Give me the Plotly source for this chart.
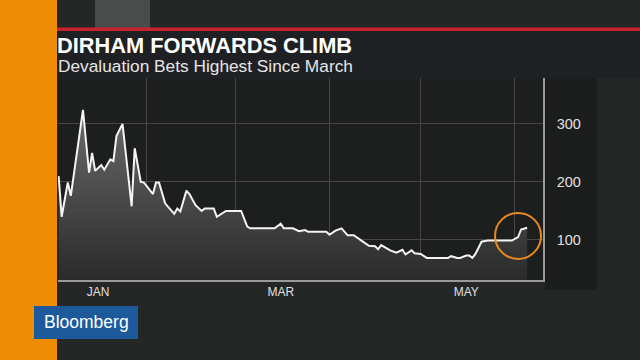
import plotly.graph_objects as go

# ---- data ----
dates = [
    "2016-01-03", "2016-01-04", "2016-01-06", "2016-01-07", "2016-01-11", "2016-01-13",
    "2016-01-14", "2016-01-15", "2016-01-17", "2016-01-18", "2016-01-20", "2016-01-21",
    "2016-01-22", "2016-01-24", "2016-01-27", "2016-01-28", "2016-01-30", "2016-01-31",
    "2016-02-03", "2016-02-04", "2016-02-05", "2016-02-07", "2016-02-08", "2016-02-10",
    "2016-02-11", "2016-02-12", "2016-02-14", "2016-02-15", "2016-02-17", "2016-02-19",
    "2016-02-20", "2016-02-23", "2016-02-24", "2016-02-27", "2016-03-03", "2016-03-05",
    "2016-03-06", "2016-03-14", "2016-03-16", "2016-03-17", "2016-03-20", "2016-03-22",
    "2016-03-24", "2016-03-25", "2016-03-31", "2016-04-01", "2016-04-03", "2016-04-05",
    "2016-04-07", "2016-04-09", "2016-04-12", "2016-04-14", "2016-04-16", "2016-04-17",
    "2016-04-18", "2016-04-20", "2016-04-21", "2016-04-23", "2016-04-25", "2016-04-26",
    "2016-04-28", "2016-04-29", "2016-05-01", "2016-05-03", "2016-05-10", "2016-05-11",
    "2016-05-13", "2016-05-14", "2016-05-16", "2016-05-17", "2016-05-18", "2016-05-19",
    "2016-05-21", "2016-05-23", "2016-05-31", "2016-06-02", "2016-06-03", "2016-06-05",
]
values = [
    210, 140, 199, 176, 324, 216,
    250, 219, 229, 221, 239, 236,
    279, 300, 158, 258, 200, 199,
    179, 199, 199, 163, 157, 145,
    154, 149, 185, 179, 160, 150,
    154, 154, 140, 150, 150, 123,
    120, 120, 128, 120, 120, 115,
    117, 114, 114, 109, 116, 120,
    108, 108, 97, 90, 89, 84,
    91, 84, 82, 78, 83, 75,
    82, 77, 76, 69, 69, 72,
    69, 69, 73, 73, 69, 76,
    97, 99, 99, 105, 118, 121,
]
month_label_dates = ["2016-01-16", "2016-03-16", "2016-05-16"]
month_labels = ["JAN", "MAR", "MAY"]
month_starts = ["2016-02-01", "2016-03-01", "2016-04-01", "2016-05-01", "2016-06-01"]
y_ticks = [100, 200, 300]
highlight_date = ["2016-06-02"]
highlight_value = [107]

W, H = 640, 360
def px(x): return x / W
def py(y): return 1 - y / H

fig = go.Figure()

fig.add_trace(go.Scatter(
    x=dates, y=values, mode="lines",
    line=dict(color="#f4f4f4", width=2),
    fill="tozeroy",
    fillgradient=dict(type="vertical", start=30, stop=330,
                      colorscale=[[0, "#2a2a2a"], [1, "#6c6c6c"]]),
    hoverinfo="skip", showlegend=False,
))
fig.add_trace(go.Scatter(
    x=highlight_date, y=highlight_value, mode="markers",
    marker=dict(symbol="circle-open", size=46, color="#e8891f", line=dict(width=2, color="#e8891f")),
    hoverinfo="skip", showlegend=False,
))

shapes = [
    # backgrounds
    dict(type="rect", xref="paper", yref="paper", x0=0, x1=1, y0=py(28), y1=1,
         fillcolor="#252626", line_width=0, layer="below"),
    dict(type="rect", xref="paper", yref="paper", x0=px(95), x1=px(150), y0=py(28), y1=1,
         fillcolor="#4a4b4b", line_width=0, layer="below"),
    dict(type="rect", xref="paper", yref="paper", x0=px(545), x1=px(597), y0=py(290), y1=py(78),
         fillcolor="#1c1d1d", line_width=0, layer="below"),
    # title box
    dict(type="rect", xref="paper", yref="paper", x0=px(54), x1=1, y0=py(78), y1=py(30),
         fillcolor="#1f2023", line_width=0, layer="below"),
    # red line
    dict(type="rect", xref="paper", yref="paper", x0=px(54), x1=1, y0=py(31), y1=py(27.5),
         fillcolor="#c8222a", line_width=0, layer="above"),
    # orange strip
    dict(type="rect", xref="paper", yref="paper", x0=0, x1=px(57), y0=0, y1=1,
         fillcolor="#f08d06", line_width=0, layer="above"),
    # Bloomberg box
    dict(type="rect", xref="paper", yref="paper", x0=px(34), x1=px(138), y0=py(339), y1=py(306),
         fillcolor="#1d5a9c", line_width=0, layer="above"),
]

annotations = [
    dict(text="<b>DIRHAM FORWARDS CLIMB</b>", xref="paper", yref="paper",
         x=px(55), y=py(45), xanchor="left", yanchor="middle", showarrow=False,
         font=dict(family="Liberation Sans, Arial", size=21.8, color="#ffffff")),
    dict(text="Devaluation Bets Highest Since March", xref="paper", yref="paper",
         x=px(56), y=py(66), xanchor="left", yanchor="middle", showarrow=False,
         font=dict(family="Liberation Sans, Arial", size=17.3, color="#e6e6e6")),
    dict(text="Bloomberg", xref="paper", yref="paper",
         x=px(86), y=py(322), xanchor="center", yanchor="middle", showarrow=False,
         font=dict(family="Liberation Sans, Arial", size=17.5, color="#ffffff")),
]

fig.update_layout(
    width=W, height=H,
    margin=dict(l=0, r=0, t=0, b=0),
    paper_bgcolor="#252626",
    plot_bgcolor="#1d1e1e",
    shapes=shapes,
    annotations=annotations,
    xaxis=dict(
        domain=[px(58), px(543)],
        type="date",
        range=["2016-01-02 19:00", "2016-06-10 05:00"],
        tickmode="array", tickvals=month_label_dates, ticktext=month_labels,
        showgrid=False, ticks="", zeroline=False,
        showline=True, linecolor="#9a9a9a", linewidth=1.5,
        tickfont=dict(family="Liberation Sans, Arial", size=12, color="#e0e0e0"),
        minor=dict(tickmode="array", tickvals=month_starts, showgrid=True,
                   gridcolor="#474747", gridwidth=1, ticks=""),
        fixedrange=True,
    ),
    yaxis=dict(
        domain=[py(280), py(78)],
        side="right",
        range=[31, 379],
        tickmode="array", tickvals=y_ticks,
        showgrid=True, gridcolor="#474747", gridwidth=1,
        zeroline=False,
        showline=True, linecolor="#9a9a9a", linewidth=1.5,
        ticks="outside", ticklen=9, tickcolor="rgba(0,0,0,0)",
        tickfont=dict(family="Liberation Sans, Arial", size=14.5, color="#e0e0e0"),
        fixedrange=True,
    ),
)

fig.write_html("out.html")
